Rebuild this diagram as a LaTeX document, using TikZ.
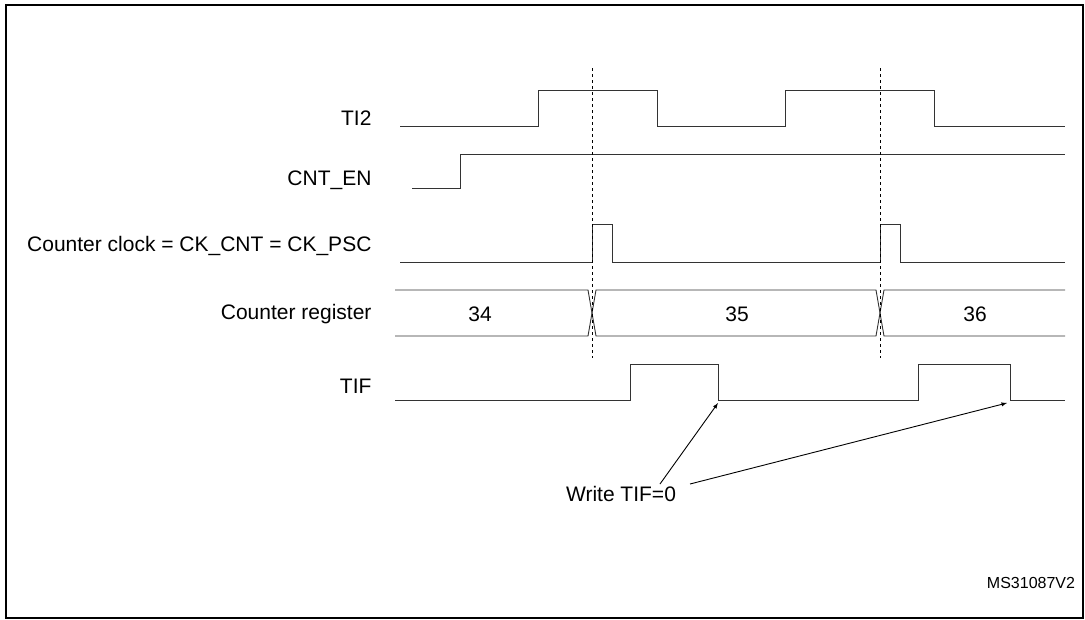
\documentclass[tikz,border=0pt]{standalone}
\usepackage{fontspec}
\setmainfont{Liberation Sans}
\begin{document}
\begin{tikzpicture}[x=1pt,y=-1pt,
  sig/.style={line width=0.9pt,black!80},
  lab/.style={anchor=east,font=\fontsize{21}{24}\selectfont},
  val/.style={font=\fontsize{21}{24}\selectfont},
  arr/.style={line width=0.9pt,-latex}]
\useasboundingbox (0,0) rectangle (1085,619);
\draw[line width=1.4pt] (6,5) rectangle (1083,618);
% labels
\node[lab] (l1) at (375,118) {TI2};
\node[lab] (l2) at (375,180) {CNT\_EN};
\node[lab] (l3) at (375,246) {Counter clock = CK\_CNT = CK\_PSC};
\node[lab] (l4) at (375,314) {Counter register};
\node[lab] (l5) at (375,386) {TIF};
% TI2
\draw[sig] (400,126)--(538,126)--(538,90)--(657,90)--(657,126)--(785,126)--(785,90)--(934,90)--(934,126)--(1065,126);
% CNT_EN
\draw[sig] (412,188)--(460,188)--(460,154)--(1065,154);
% clock
\draw[sig] (400,262)--(592,262)--(592,224)--(612,224)--(612,262)--(880,262)--(880,224)--(900,224)--(900,262)--(1065,262);
% counter register
\draw[sig] (395,290)--(588,290)--(596,336)--(876,336)--(884,290)--(1065,290);
\draw[sig] (395,336)--(588,336)--(596,290)--(876,290)--(884,336)--(1065,336);
\node[val] (v34) at (480,314) {34};
\node[val] (v35) at (737,314) {35};
\node[val] (v36) at (975,314) {36};
% dashed
\draw[line width=0.8pt,dashed] (592,68)--(592,358);
\draw[line width=0.8pt,dashed] (880,68)--(880,358);
% TIF
\draw[sig] (395,400)--(630,400)--(630,364)--(718,364)--(718,400)--(918,400)--(918,364)--(1010,364)--(1010,400)--(1065,400);
\coordinate (t1) at (718,403);
\coordinate (t2) at (1007,403);
\node[val] (w) at (621,494) {Write TIF=0};
\draw[arr] (660,484)--(t1);
\draw[arr] (690,484)--(t2);
\node[font=\fontsize{16}{18}\selectfont] (ms) at (1031,583) {MS31087V2};
\end{tikzpicture}
\end{document}
